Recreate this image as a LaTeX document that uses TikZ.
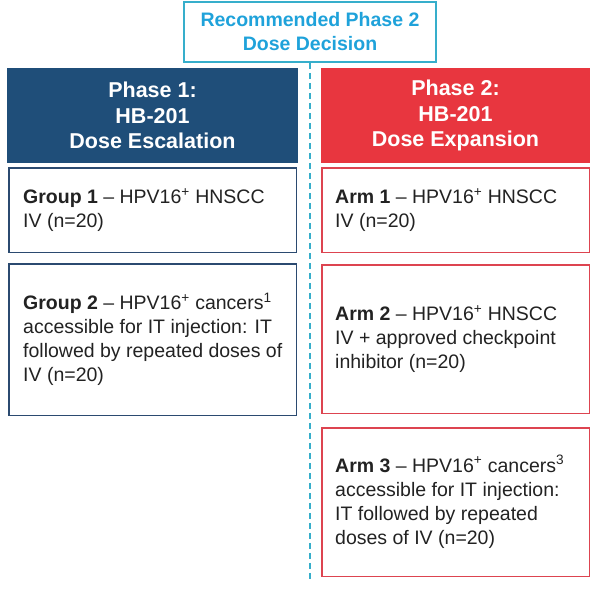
\documentclass[tikz,border=0pt]{standalone}
\usepackage{fontspec}
\setmainfont{Liberation Sans}
\definecolor{navy}{HTML}{1F4E79}
\definecolor{navyline}{HTML}{2B4A70}
\definecolor{redfill}{HTML}{E8363F}
\definecolor{redline}{HTML}{DD4450}
\definecolor{cyantext}{HTML}{1FA2DA}
\definecolor{cyanline}{HTML}{36AECB}
\definecolor{bodytext}{HTML}{222222}
\begin{document}
\begin{tikzpicture}[x=1pt,y=-1pt,
  topbox/.style={draw=cyanline, line width=1.6pt, minimum width=252pt, minimum height=60pt, inner sep=0pt,
    text=cyantext, align=center, font=\bfseries\fontsize{19.5}{24}\selectfont},
  hdrleft/.style={fill=navy, draw=none, minimum width=291pt, minimum height=95pt, inner sep=0pt,
    text=white, align=center, font=\bfseries\fontsize{21.5}{25.5}\selectfont},
  hdrright/.style={hdrleft, fill=redfill, minimum width=269pt},
  lbox/.style={draw=navyline, line width=1.5pt, minimum width=287.5pt, inner sep=0pt},
  rbox/.style={draw=redline, line width=1.5pt, minimum width=267.5pt, inner sep=0pt},
  bodytxt/.style={anchor=west, inner sep=0pt, align=left, text=bodytext, font=\fontsize{19.5}{24}\selectfont},
  divider/.style={draw=cyanline, line width=2pt, dash pattern=on 6pt off 4pt}
]
\useasboundingbox (0,0) rectangle (591,589);

\node[topbox] (top) at (310,32) {Recommended Phase 2\\Dose Decision};
\coordinate (divend) at (310,582);
\draw[divider] (top.south) -- (divend);

\node[hdrleft] (h1) at (152.5,115.5) {Phase 1:\\HB-201\\Dose Escalation};
\node[hdrright] (h2) at (455.5,115.5) {Phase 2:\\HB-201\\Dose Expansion};

\node[lbox, minimum height=84.5pt] (g1) at (152.5,210) {};
\node[bodytxt] (g1t) at ([xshift=15pt]g1.west) {\textbf{Group 1} – HPV16\textsuperscript{+} HNSCC\\IV (n=20)};

\node[lbox, minimum height=151.5pt] (g2) at (152.5,339.5) {};
\node[bodytxt] (g2t) at ([xshift=15pt]g2.west) {\textbf{Group 2} – HPV16\textsuperscript{+} cancers\textsuperscript{1}\\accessible for IT injection: IT\\followed by repeated doses of\\IV (n=20)};

\node[rbox, minimum height=84.5pt] (a1) at (455.5,210) {};
\node[bodytxt] (a1t) at ([xshift=14pt]a1.west) {\textbf{Arm 1} – HPV16\textsuperscript{+} HNSCC\\IV (n=20)};

\node[rbox, minimum height=148.5pt] (a2) at (455.5,339) {};
\node[bodytxt] (a2t) at ([xshift=14pt]a2.west) {\textbf{Arm 2} – HPV16\textsuperscript{+} HNSCC\\IV + approved checkpoint\\inhibitor (n=20)};

\node[rbox, minimum height=148.5pt] (a3) at (455.5,502) {};
\node[bodytxt] (a3t) at ([xshift=14pt]a3.west) {\textbf{Arm 3} – HPV16\textsuperscript{+} cancers\textsuperscript{3}\\accessible for IT injection:\\IT followed by repeated\\doses of IV (n=20)};
\end{tikzpicture}
\end{document}
